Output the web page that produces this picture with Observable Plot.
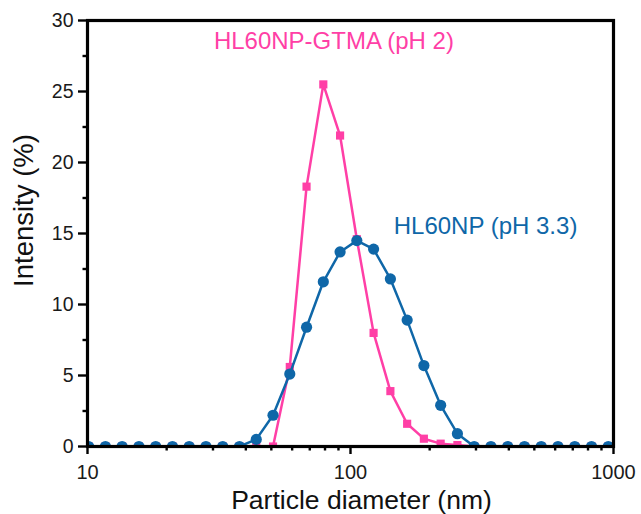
<!DOCTYPE html>
<html>
<head>
<meta charset="utf-8">
<script src="https://cdn.jsdelivr.net/npm/d3@7"></script>
<script src="https://cdn.jsdelivr.net/npm/@observablehq/plot@0.6"></script>
<style>
  html, body { margin: 0; padding: 0; background: #fff; }
  #chart svg { display: block; }
</style>
</head>
<body>
<div id="chart"></div>
<script>
// Particle diameter bins (nm)
const sizes = [10.1, 11.7, 13.54, 15.69, 18.17, 21.04, 24.36, 28.21, 32.67, 37.84, 43.82, 50.75, 58.77, 68.06, 78.82, 91.28, 105.7, 122.4, 141.8, 164.2, 190.1, 220.2, 255.0, 295.3, 342.0, 396.1, 458.7, 531.2, 615.1, 712.4, 825.0, 955.4];
// HL60NP (pH 3.3) intensity (%)
const hl60np = [0, 0, 0, 0, 0, 0, 0, 0, 0, 0, 0.5, 2.2, 5.1, 8.4, 11.6, 13.7, 14.5, 13.9, 11.8, 8.9, 5.7, 2.9, 0.9, 0, 0, 0, 0, 0, 0, 0, 0, 0];
// HL60NP-GTMA (pH 2) intensity (%)
const gtma = [0, 0, 0, 0, 0, 0, 0, 0, 0, 0, 0, 0, 5.6, 18.3, 25.5, 21.9, 14.6, 8.0, 3.9, 1.6, 0.55, 0.2, 0.1, 0, 0, 0, 0, 0, 0, 0, 0, 0];

const yMajor = [0, 5, 10, 15, 20, 25, 30];
const yMinor = [2.5, 7.5, 12.5, 17.5, 22.5, 27.5];
const xMajor = [10, 100, 1000];
const xMinor = [20, 30, 40, 50, 60, 70, 80, 90, 200, 300, 400, 500, 600, 700, 800, 900];
const xDomain = [10, 1000];
const yDomain = [0, 30];

const pink = "#ff3fa6";
const blue = "#0f67a8";

const blueData = sizes.map((s, i) => ({x: s, y: hl60np[i]}));
const pinkData = sizes.map((s, i) => ({x: s, y: gtma[i]}));

const chart = Plot.plot({
  width: 641,
  height: 514,
  marginLeft: 87,
  marginRight: 28,
  marginTop: 20,
  marginBottom: 68,
  style: {fontFamily: "'Liberation Sans', Arial, sans-serif", background: "#fff", color: "#1a1a1a"},
  x: {type: "log", domain: xDomain},
  y: {domain: yDomain},
  marks: [
    Plot.line(pinkData, {x: "x", y: "y", stroke: pink, strokeWidth: 2.5, clip: true}),
    Plot.dot(pinkData, {x: "x", y: "y", symbol: "square", r: 4.6, fill: pink, clip: true}),
    Plot.line(blueData, {x: "x", y: "y", stroke: blue, strokeWidth: 2.5, clip: true}),
    Plot.dot(blueData, {x: "x", y: "y", symbol: "circle", r: 5.6, fill: blue, clip: true}),
    Plot.frame({stroke: "#000", strokeWidth: 3.2, strokeOpacity: 1}),
    Plot.axisY({ticks: yMajor, tickSize: 9, tickPadding: 5, fontSize: 19.5, label: null, tickFormat: d => String(d), strokeWidth: 2.4, strokeOpacity: 1, stroke: "#000"}),
    Plot.axisY({ticks: yMinor, tickSize: 4.5, text: null, label: null, strokeWidth: 2.4, strokeOpacity: 1, stroke: "#000"}),
    Plot.axisX({ticks: xMajor, tickSize: 8, tickPadding: 10, fontSize: 20, label: null, tickFormat: d => String(d), strokeWidth: 2.4, strokeOpacity: 1, stroke: "#000"}),
    Plot.axisX({ticks: xMinor, tickSize: 4.5, text: null, label: null, strokeWidth: 2.4, strokeOpacity: 1, stroke: "#000"}),
    Plot.text(["Intensity (%)"], {frameAnchor: "left", rotate: -90, textAnchor: "middle", lineAnchor: "middle", dx: -63, dy: -23, fontSize: 27.5, fill: "#111"}),
    Plot.text(["Particle diameter (nm)"], {frameAnchor: "bottom", textAnchor: "middle", lineAnchor: "middle", dx: 11, dy: 54, fontSize: 26.5, fill: "#111"}),
    Plot.text(["HL60NP-GTMA (pH 2)"], {x: 86.5, y: 28.5, fontSize: 24, fill: pink}),
    Plot.text(["HL60NP (pH 3.3)"], {x: 146, y: 15.5, textAnchor: "start", fontSize: 24, fill: blue})
  ]
});
document.getElementById("chart").appendChild(chart);
</script>
</body>
</html>
